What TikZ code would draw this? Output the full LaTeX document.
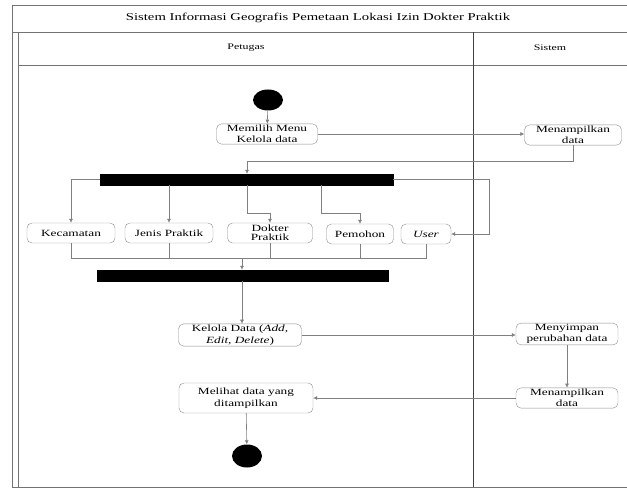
\documentclass[tikz,border=0pt]{standalone}
\usepackage{fontspec}
\setmainfont{Liberation Serif}[FakeStretch=1.4]
\usepackage{tikz}
\usetikzlibrary{positioning,arrows.meta,shapes.geometric}

\begin{document}
\begin{tikzpicture}[
  x=1pt, y=-1pt,
  act/.style={draw=black!45, rounded corners=5pt, inner xsep=2pt, inner ysep=1pt,
    minimum height=20pt, align=center, font=\fontsize{9.5}{11.5}\selectfont},
  bar/.style={draw, fill=black, inner sep=0pt, minimum height=11pt},
  dot/.style={ellipse, fill=black, inner sep=0pt, minimum width=30pt, minimum height=21pt},
  line/.style={draw=black!50, line width=0.6pt},
  flow/.style={line, -{Latex[length=4pt,width=4pt]}},
  frame/.style={draw=black!55, line width=0.7pt},
  lane/.style={font=\fontsize{8.5}{10}\selectfont}
]
\useasboundingbox (0,0) rectangle (627,489);
\draw[frame] (12,5) -- (640,5) (12,5) -- (12,487) -- (640,487)
  (12,32) -- (640,32) (18,32) -- (18,487) (18,65) -- (640,65);
\draw[frame, draw=black!75] (473,32) -- (473,487);
\node[font=\fontsize{10.5}{12}\selectfont] (judul) at (318,18)
  {Sistem Informasi Geografis Pemetaan Lokasi Izin Dokter Praktik};
\node[lane] (petugas) at (246,48) {Petugas};
\node[lane] (sistem) at (550,48) {Sistem};

\node[dot] (start) at (268,100) {};
\node[act, minimum width=101] (menu) at (267,134) {Memilih Menu\\Kelola data};
\node[act, minimum width=97] (tampil) at (573,135) {Menampilkan\\data};
\node[bar, minimum width=293] (fork) at (246.5,179.5) {};
\node[act, minimum width=88] (kec) at (71,233) {Kecamatan};
\node[act, minimum width=88] (jenis) at (169,233) {Jenis Praktik};
\node[act, minimum width=85, inner ysep=0pt, font=\fontsize{9.5}{9.5}\selectfont] (dokter) at (270,233) {Dokter\\Praktik};
\node[act, minimum width=67] (pemohon) at (360,234) {Pemohon};
\node[act, minimum width=50] (user) at (426,234) {\textit{User}};
\node[bar, minimum width=291] (join) at (242.5,275.5) {};
\node[act, minimum width=123] (kelola) at (240,335) {Kelola Data (\textit{Add,}\\\textit{Edit, Delete})};
\node[act, minimum width=102] (simpan) at (567,334) {Menyimpan\\perubahan data};
\node[act, minimum width=102] (tampil2) at (567,398) {Menampilkan\\data};
\node[act, minimum width=134, minimum height=30] (lihat) at (246,398) {Melihat data yang\\ditampilkan};
\node[dot, minimum height=23] (end) at (247,456) {};

\coordinate (f1) at (247,161);
\coordinate (d1) at (247,213);
\coordinate (p1) at (321,213);
\coordinate (u1) at (489,179);
\coordinate (j1) at (242,258);

\draw[flow] (start) -- (menu);
\draw[flow] (menu.east) -- (menu.east -| tampil.west);
\draw[flow] (tampil.south) |- (f1) -- (f1 |- fork.north);
\draw[flow] (fork.west) -| (kec.north);
\draw[flow] (fork.south -| jenis.north) -- (jenis.north);
\draw[flow] (d1 |- fork.south) -- (d1) -| (dokter.north);
\draw[flow] (p1 |- fork.south) -- (p1) -| (pemohon.north);
\draw[flow] (fork.east) -- (u1 |- fork.east) |- (user.east);
\draw[line] (kec.south) -- (kec.south |- j1) -- (user.south |- j1) -- (user.south);
\foreach \n in {jenis,dokter,pemohon}
  \draw[line] (\n.south) -- (\n.south |- j1);
\draw[flow] (j1) -- (j1 |- join.north);
\draw[flow] (j1 |- join.south) -- (j1 |- kelola.north);
\draw[flow] (kelola.east) -- (kelola.east -| simpan.west);
\draw[flow] (simpan) -- (tampil2);
\draw[flow] (tampil2.west) -- (tampil2.west -| lihat.east);
\draw[flow] (lihat) -- (end);
\end{tikzpicture}
\end{document}
